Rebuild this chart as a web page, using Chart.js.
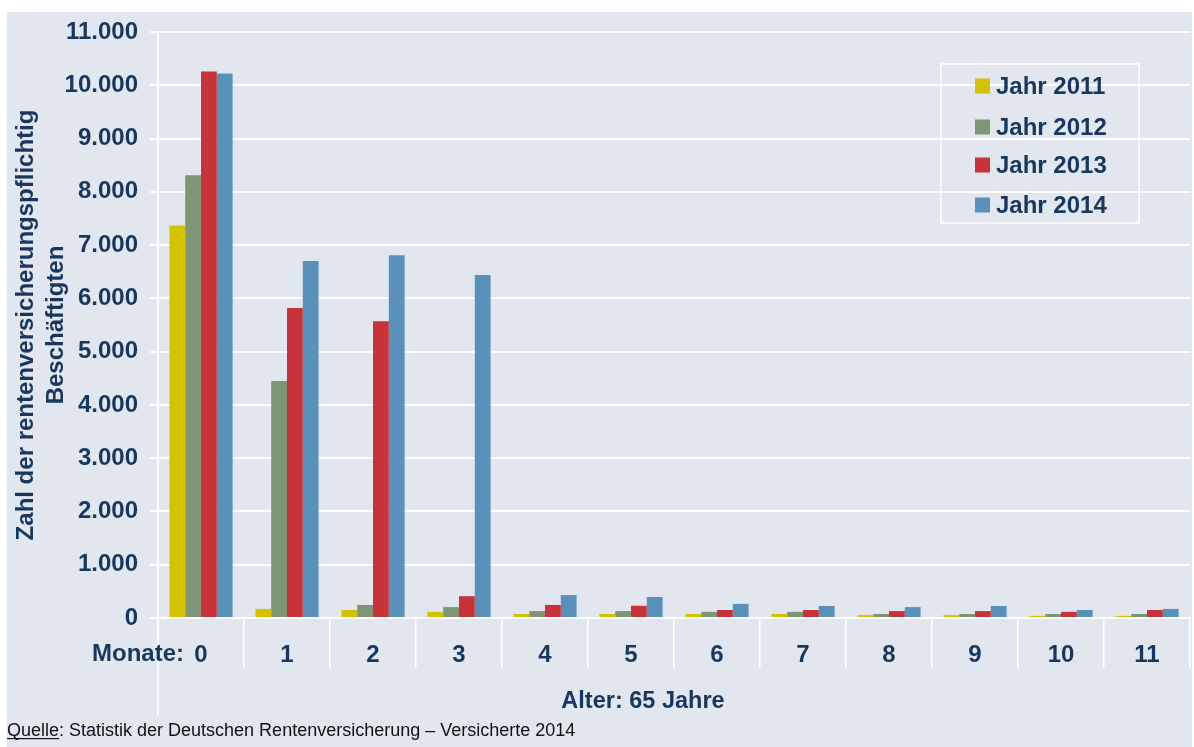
<!DOCTYPE html>
<html lang="de">
<head>
<meta charset="utf-8">
<title>Beschäftigte nach Monaten über 65</title>
<script src="https://cdn.jsdelivr.net/npm/chart.js@4/dist/chart.umd.min.js"></script>
<style>
  html, body { margin: 0; padding: 0; background: #fff; }
  #wrap { position: relative; width: 1194px; height: 747px; }
</style>
</head>
<body>
<div id="wrap"><canvas id="chart" width="1194" height="747"></canvas></div>
<script>
// Monate über dem 65. Lebensjahr
const months = ["0", "1", "2", "3", "4", "5", "6", "7", "8", "9", "10", "11"];
const years = ["Jahr 2011", "Jahr 2012", "Jahr 2013", "Jahr 2014"];

const y2011 = [7370, 170, 150, 115, 75, 75, 75, 75, 55, 55, 40, 40];
const y2012 = [8310, 4450, 245, 205, 130, 130, 115, 115, 75, 75, 75, 75];
const y2013 = [10260, 5820, 5570, 410, 245, 230, 150, 150, 130, 130, 115, 150];
const y2014 = [10220, 6700, 6810, 6440, 430, 395, 265, 225, 205, 225, 150, 170];

const yTicksMax = 11000;
const yTicksStep = 1000;

const colors = ["#d4c200", "#7f9676", "#c8333a", "#5a91bb"];
const navy = "#17375e";
const bg = "#e1e6ef";
const fontFamily = "'Liberation Sans', Arial, sans-serif";

function fmt(v) {
  return String(v).replace(/\B(?=(\d{3})+(?!\d))/g, ".");
}

// background, extra axis labels, legend box and source note
const decor = {
  id: "decor",
  beforeDraw(chart) {
    const ctx = chart.ctx;
    ctx.save();
    ctx.fillStyle = bg;
    ctx.fillRect(7, 12, 1185, 735);
    ctx.restore();
  },
  afterDraw(chart) {
    const ctx = chart.ctx;
    const area = chart.chartArea;
    ctx.save();

    // y axis runs on down past the category row
    ctx.strokeStyle = "#fff";
    ctx.lineWidth = 1.5;
    ctx.beginPath();
    ctx.moveTo(area.left, area.bottom);
    ctx.lineTo(area.left, 715);
    ctx.stroke();

    ctx.fillStyle = navy;
    ctx.font = "bold 24px " + fontFamily;
    ctx.textBaseline = "middle";
    ctx.textAlign = "right";
    ctx.fillText("Monate:", 184, 654);
    ctx.font = "bold 23.5px " + fontFamily;
    ctx.textAlign = "center";
    ctx.fillText("Alter: 65 Jahre", 643, 702);

    // legend
    ctx.font = "bold 24px " + fontFamily;
    ctx.strokeStyle = "#fff";
    ctx.lineWidth = 1.5;
    ctx.strokeRect(941, 64, 198, 159);
    const rows = [86, 127, 165, 205];
    chart.data.datasets.forEach((ds, i) => {
      ctx.fillStyle = ds.backgroundColor;
      ctx.fillRect(975, rows[i] - 7.5, 15, 15);
      ctx.fillStyle = navy;
      ctx.textAlign = "left";
      ctx.fillText(ds.label, 996, rows[i] + 1);
    });

    // source
    ctx.fillStyle = "#111";
    ctx.font = "18px " + fontFamily;
    ctx.textBaseline = "alphabetic";
    ctx.textAlign = "left";
    const lead = "Quelle";
    ctx.fillText(lead, 7, 736);
    const w = ctx.measureText(lead).width;
    ctx.fillText(": Statistik der Deutschen Rentenversicherung – Versicherte 2014", 7 + w, 736);
    ctx.fillRect(7, 738, w, 1.2);
    ctx.restore();
  }
};

new Chart(document.getElementById("chart"), {
  type: "bar",
  data: {
    labels: months,
    datasets: [y2011, y2012, y2013, y2014].map((d, i) => ({
      label: years[i],
      data: d,
      backgroundColor: colors[i],
      borderWidth: 0,
      categoryPercentage: 0.735,
      barPercentage: 1.0
    }))
  },
  options: {
    responsive: false,
    animation: false,
    events: [],
    layout: { padding: { top: 32, right: 4, bottom: 0, left: 0 } },
    plugins: {
      legend: { display: false },
      tooltip: { enabled: false }
    },
    scales: {
      x: {
        grid: {
          offset: true,
          drawOnChartArea: false,
          color: "#fff",
          lineWidth: 1.5,
          tickLength: 50
        },
        border: { color: "#fff", width: 2 },
        ticks: {
          color: navy,
          font: { family: fontFamily, size: 24, weight: "bold" },
          padding: -27,
          maxRotation: 0
        },
        afterFit(scale) { scale.height = 129; }
      },
      y: {
        min: 0,
        max: yTicksMax,
        grid: { color: "#fff", lineWidth: 2, tickLength: 8 },
        border: { color: "#fff", width: 2 },
        ticks: {
          stepSize: yTicksStep,
          color: navy,
          padding: 12,
          font: { family: fontFamily, size: 24, weight: "bold" },
          callback: v => fmt(v)
        },
        title: {
          display: true,
          text: ["Zahl der rentenversicherungspflichtig", "Beschäftigten"],
          color: navy,
          font: { family: fontFamily, size: 24, weight: "bold", lineHeight: 1.25 },
          padding: { top: 11, bottom: 0 }
        },
        afterFit(scale) { scale.width = 158; }
      }
    }
  },
  plugins: [decor]
});
</script>
</body>
</html>
